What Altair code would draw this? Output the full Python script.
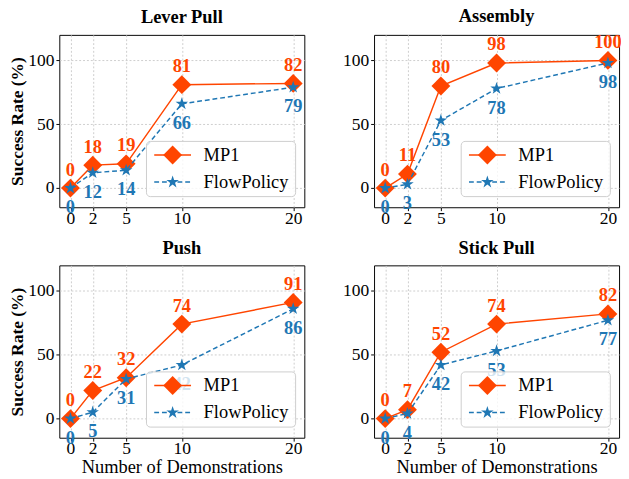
import altair as alt
import pandas as pd

x_vals = [0, 2, 5, 10, 20]
tasks = ["Lever Pull", "Assembly", "Push", "Stick Pull"]
series_names = ["MP1", "FlowPolicy"]
y_ticks = [0, 50, 100]

mp1_lever = [0, 18, 19, 81, 82]
mp1_assembly = [0, 11, 80, 98, 100]
mp1_push = [0, 22, 32, 74, 91]
mp1_stick = [0, 7, 52, 74, 82]

flow_lever = [0, 12, 14, 66, 79]
flow_assembly = [0, 3, 53, 78, 98]
flow_push = [0, 5, 31, 42, 86]
flow_stick = [0, 4, 42, 53, 77]

ORANGE = "#FF4500"
BLUE = "#1f77b4"
SERIF = "Liberation Serif"
W, H = 253, 178
STAR = ("M0,-1L0.2245,-0.309L0.951,-0.309L0.3633,0.118L0.588,0.809L0,0.382"
        "L-0.588,0.809L-0.3633,0.118L-0.951,-0.309L-0.2245,-0.309Z")


def panel(task, mp1, flow, show_y, show_x):
    df = pd.DataFrame({
        "x": x_vals * 2,
        "y": mp1 + flow,
        "series": [series_names[0]] * len(x_vals) + [series_names[1]] * len(x_vals),
    })
    x_axis = dict(values=x_vals, grid=True)
    x_axis["title"] = "Number of Demonstrations" if show_x else ""
    y_axis = dict(values=y_ticks, grid=True)
    y_axis["title"] = "Success Rate (%)" if show_y else ""

    base = alt.Chart(df).encode(
        x=alt.X("x:Q", scale=alt.Scale(domain=[-1, 21], nice=False, zero=False),
                axis=alt.Axis(**x_axis)),
        y=alt.Y("y:Q", scale=alt.Scale(domain=[-15, 120], nice=False, zero=False),
                axis=alt.Axis(**y_axis)),
    )
    m = base.transform_filter(alt.datum.series == series_names[0])
    f = base.transform_filter(alt.datum.series == series_names[1])

    m_line = m.mark_line(color=ORANGE, strokeWidth=1.5)
    m_pts = m.mark_point(shape="diamond", filled=True, size=380, color=ORANGE, opacity=1)
    f_line = f.mark_line(color=BLUE, strokeWidth=1.5, strokeDash=[5, 3])
    f_pts = f.mark_point(shape=STAR, filled=True, size=185, color=BLUE, opacity=1)
    m_txt = m.mark_text(dy=-19, font=SERIF, fontSize=19, fontWeight="bold",
                        color=ORANGE).encode(text="y:Q")
    f_txt = f.mark_text(dy=20, font=SERIF, fontSize=19, fontWeight="bold",
                        color=BLUE).encode(text="y:Q")

    ld = pd.DataFrame({"k": [0]})
    lb = alt.Chart(ld)
    box = lb.mark_rect(fill="white", fillOpacity=0.8, stroke="#cccccc",
                       strokeWidth=1, cornerRadius=4).encode(
        x=alt.value(90), x2=alt.value(244), y=alt.value(110), y2=alt.value(167))
    l1 = lb.mark_rule(color=ORANGE, strokeWidth=1.5).encode(
        x=alt.value(98), x2=alt.value(136), y=alt.value(124))
    p1 = lb.mark_point(shape="diamond", filled=True, size=380, color=ORANGE, opacity=1).encode(
        x=alt.value(117), y=alt.value(124))
    t1 = lb.mark_text(align="left", baseline="middle", font=SERIF, fontSize=19,
                      color="black").encode(x=alt.value(149), y=alt.value(124),
                                            text=alt.value(series_names[0]))
    l2 = lb.mark_rule(color=BLUE, strokeWidth=1.5, strokeDash=[5, 3]).encode(
        x=alt.value(98), x2=alt.value(136), y=alt.value(152))
    p2 = lb.mark_point(shape=STAR, filled=True, size=185, color=BLUE, opacity=1).encode(
        x=alt.value(117), y=alt.value(152))
    t2 = lb.mark_text(align="left", baseline="middle", font=SERIF, fontSize=19,
                      color="black").encode(x=alt.value(149), y=alt.value(152),
                                            text=alt.value(series_names[1]))

    return alt.layer(m_line, m_pts, f_line, f_pts, m_txt, f_txt,
                     box, l1, p1, t1, l2, p2, t2).properties(
        width=W, height=H,
        title=alt.TitleParams(task, font=SERIF, fontSize=19, fontWeight="bold",
                              color="black", offset=8))


row1 = alt.hconcat(panel(tasks[0], mp1_lever, flow_lever, True, False),
                   panel(tasks[1], mp1_assembly, flow_assembly, False, False),
                   spacing=38)
row2 = alt.hconcat(panel(tasks[2], mp1_push, flow_push, True, True),
                   panel(tasks[3], mp1_stick, flow_stick, False, True),
                   spacing=38)

chart = alt.vconcat(row1, row2, spacing=11).properties(
    padding={"left": 0, "top": -10, "right": -2, "bottom": 0}
).configure_view(
    stroke="black", strokeWidth=1
).configure_axis(
    labelFont=SERIF, labelFontSize=18, labelColor="black",
    titleFont=SERIF, titleFontSize=19, titleColor="black",
    tickColor="black", tickSize=3.5, domain=False,
    gridColor="#cccccc", gridDash=[2, 2], labelPadding=2,
).configure_axisY(
    titleFontWeight="bold", titlePadding=2, titleFontSize=18
).configure_axisX(
    titleFontWeight="normal", titlePadding=0, labelPadding=-1
)

chart.save("out.html", embed_options={"renderer": "svg", "actions": False})
